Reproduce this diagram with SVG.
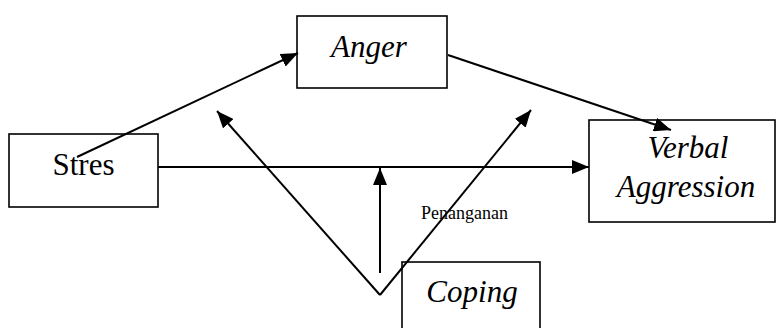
<svg xmlns="http://www.w3.org/2000/svg" width="778" height="328" viewBox="0 0 778 328">
<style>
.box{fill:#fff;stroke:#000;stroke-width:1.6}
.lbl{font-family:"Liberation Serif","Times New Roman",serif;font-size:31px;fill:#000}
.it{font-style:italic}
.small{font-family:"Liberation Serif","Times New Roman",serif;font-size:18px;fill:#000}
.edge{stroke:#000;stroke-width:2;fill:none;marker-end:url(#ah)}
</style>
<defs>
<marker id="ah" markerUnits="userSpaceOnUse" markerWidth="18" markerHeight="14" refX="17" refY="7" orient="auto">
<path d="M0,0 L17,7 L0,14 Z" fill="#000"/>
</marker>
</defs>
<rect width="778" height="328" fill="#fff"/>
<g id="node-stres"><rect class="box" x="9" y="134" width="149" height="73"/><text class="lbl" x="83.5" y="175" text-anchor="middle">Stres</text></g>
<g id="node-anger"><rect class="box" x="297" y="16" width="150" height="72"/><text class="lbl it" x="369" y="57" text-anchor="middle">Anger</text></g>
<g id="node-verbal"><rect class="box" x="589" y="120" width="186" height="102"/><text class="lbl it" x="688" y="158" text-anchor="middle">Verbal</text><text class="lbl it" x="686" y="197" text-anchor="middle">Aggression</text></g>
<g id="node-coping"><rect class="box" x="402" y="262" width="138" height="70"/><text class="lbl it" x="472" y="302" text-anchor="middle">Coping</text></g>
<g id="connectors">
<line class="edge" x1="77" y1="157" x2="298" y2="53"/>
<line class="edge" x1="158" y1="167" x2="589" y2="167"/>
<line class="edge" x1="448" y1="55" x2="671" y2="130"/>
<line class="edge" x1="380" y1="295" x2="217" y2="111"/>
<line class="edge" x1="380" y1="295" x2="531" y2="110"/>
<line class="edge" x1="380" y1="273" x2="380" y2="168"/>
</g>
<text class="small" x="421" y="219">Penanganan</text>
</svg>
